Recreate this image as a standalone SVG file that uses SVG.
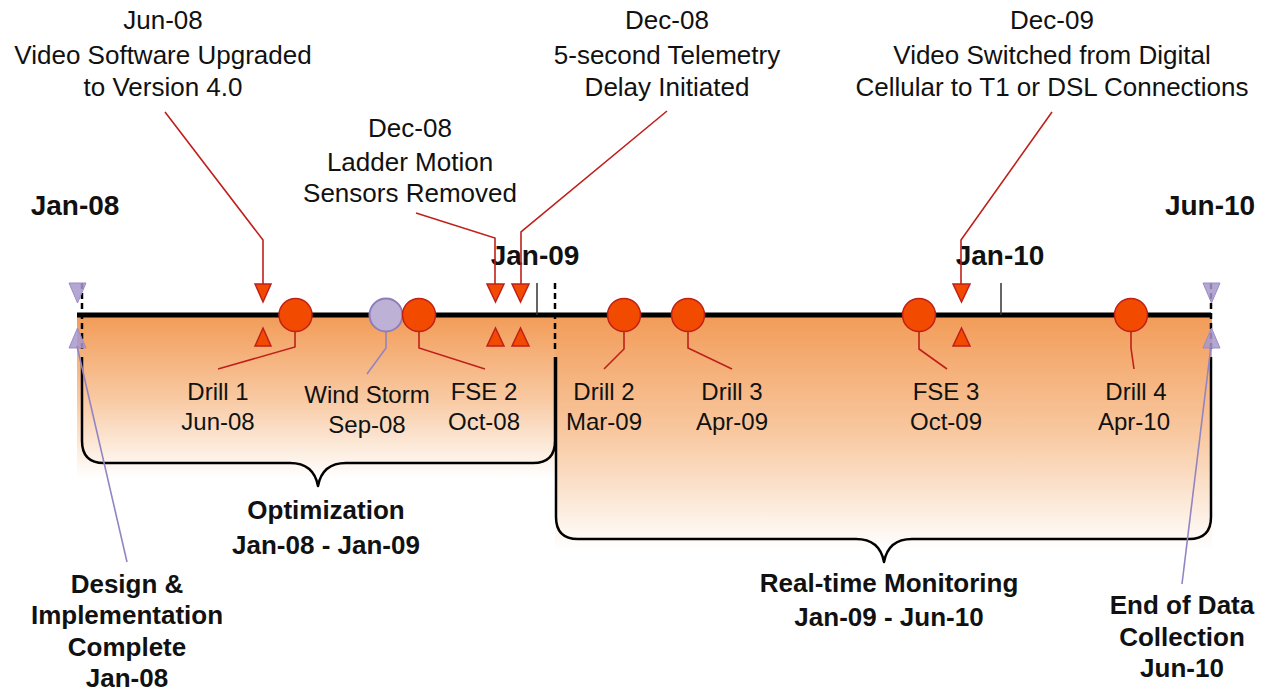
<svg xmlns="http://www.w3.org/2000/svg" width="1266" height="692" viewBox="0 0 1266 692">
<style>
text{font-family:"Liberation Sans",Arial,sans-serif;fill:#111;text-anchor:middle}
.note{font-size:26px}
.lbl{font-size:24px}
.bold{font-size:26px;font-weight:bold}
.date{font-size:28px;font-weight:bold}
.red{fill:#F24B00;stroke:#C0201A;stroke-width:1.5}
.pur{fill:#BDB2D6;stroke:#8E7DBB;stroke-width:2}
.ptri{fill:#A898CC;fill-opacity:0.85;stroke:#9B8CC6;stroke-width:1}
.rline{fill:none;stroke:#C0201A;stroke-width:1.6}
.pline{fill:none;stroke:#9384C2;stroke-width:1.6}
.brace{fill:none;stroke:#000;stroke-width:2.5;stroke-linejoin:round}
.dash{stroke:#000;stroke-width:2.5;stroke-dasharray:6,4}
</style>
<defs>
<linearGradient id="og" x1="0" y1="0" x2="0" y2="1">
<stop offset="0" stop-color="#F29C58"/>
<stop offset="0.5" stop-color="#F8C8A0"/>
<stop offset="1" stop-color="#FFFFFF"/>
</linearGradient>
</defs>
<g id="background">
<rect x="77" y="316" width="478" height="162" fill="url(#og)"/>
<rect x="555" y="316" width="657" height="234" fill="url(#og)"/>
</g>
<g id="braces">
<path class="brace" d="M82,357 V441 Q82,463 104,463 H290 C305,463 315,470 318,486 C321,470 331,463 346,463 H533 Q555,463 555,441 V357"/>
<path class="brace" d="M556,357 V517 Q556,539 578,539 H856 C871,539 881,546 884,562 C887,546 897,539 912,539 H1189 Q1211,539 1211,517 V357"/>
</g>
<g id="timeline">
<line x1="77" y1="315" x2="1211" y2="315" stroke="#000" stroke-width="5"/>
<line x1="537" y1="283" x2="537" y2="315" stroke="#333" stroke-width="1.5"/>
<line x1="1001" y1="283" x2="1001" y2="315" stroke="#333" stroke-width="1.5"/>
<line class="dash" x1="82" y1="283" x2="82" y2="352"/>
<line class="dash" x1="555" y1="283" x2="555" y2="352"/>
<line class="dash" x1="1211" y1="283" x2="1211" y2="352"/>
<polygon class="ptri" points="69,283 86,283 77.5,303"/>
<polygon class="ptri" points="69,348 86,348 77.5,328"/>
<polygon class="ptri" points="1203,283 1220,283 1211.5,303"/>
<polygon class="ptri" points="1203,348 1220,348 1211.5,328"/>
</g>
<g id="dates">
<text class="date" x="75" y="215">Jan-08</text>
<text class="date" x="1210" y="215">Jun-10</text>
<text class="date" x="535" y="265">Jan-09</text>
<text class="date" x="1000" y="265">Jan-10</text>
</g>
<g id="connectors">
<polyline class="rline" points="165,112 263,240 263,285"/>
<polyline class="rline" points="416,213 495,238 495,285"/>
<polyline class="rline" points="667,111 521,232 521,285"/>
<polyline class="rline" points="1052,112 961,240 961,285"/>
<polyline class="rline" points="295,331 295,347 218,369"/>
<polyline class="pline" points="386,331 386,348 367,374"/>
<polyline class="rline" points="419,331 419,348 485,369"/>
<polyline class="rline" points="624,331 624,349 604,369"/>
<polyline class="rline" points="688,331 688,348 732,369"/>
<polyline class="rline" points="919,331 919,349 947,369"/>
<polyline class="rline" points="1131,331 1131,348 1134,369"/>
<line class="pline" x1="77" y1="346" x2="127" y2="562"/>
<line class="pline" x1="1211" y1="346" x2="1182" y2="584"/>
</g>
<g id="markers">
<polygon class="red" points="255,284 271,284 263,302"/>
<polygon class="red" points="255,346 271,346 263,328"/>
<polygon class="red" points="487,284 504,284 495.5,302"/>
<polygon class="red" points="487,346 504,346 495.5,328"/>
<polygon class="red" points="512,284 529,284 520.5,302"/>
<polygon class="red" points="512,346 529,346 520.5,328"/>
<polygon class="red" points="953,284 970,284 961.5,302"/>
<polygon class="red" points="953,346 970,346 961.5,328"/>
</g>
<g id="note-jun08">
<text class="note" x="163" y="29">Jun-08</text>
<text class="note" x="163" y="64">Video Software Upgraded</text>
<text class="note" x="163" y="96">to Version 4.0</text>
</g>
<g id="note-ladder">
<text class="note" x="410" y="137">Dec-08</text>
<text class="note" x="410" y="171">Ladder Motion</text>
<text class="note" x="410" y="202">Sensors Removed</text>
</g>
<g id="note-telemetry">
<text class="note" x="667" y="29">Dec-08</text>
<text class="note" x="667" y="64">5-second Telemetry</text>
<text class="note" x="667" y="96">Delay Initiated</text>
</g>
<g id="note-video">
<text class="note" x="1052" y="29">Dec-09</text>
<text class="note" x="1052" y="64">Video Switched from Digital</text>
<text class="note" x="1052" y="96">Cellular to T1 or DSL Connections</text>
</g>
<g id="drill1">
<circle class="red" cx="295.5" cy="315" r="16.5"/>
<text class="lbl" x="218" y="400">Drill 1</text>
<text class="lbl" x="218" y="430">Jun-08</text>
</g>
<g id="windstorm">
<circle class="pur" cx="386" cy="315" r="16.5"/>
<text class="lbl" x="367" y="403">Wind Storm</text>
<text class="lbl" x="367" y="433">Sep-08</text>
</g>
<g id="fse2">
<circle class="red" cx="419" cy="315" r="16.5"/>
<text class="lbl" x="484" y="400">FSE 2</text>
<text class="lbl" x="484" y="430">Oct-08</text>
</g>
<g id="drill2">
<circle class="red" cx="624" cy="315" r="16.5"/>
<text class="lbl" x="604" y="400">Drill 2</text>
<text class="lbl" x="604" y="430">Mar-09</text>
</g>
<g id="drill3">
<circle class="red" cx="688" cy="315" r="16.5"/>
<text class="lbl" x="732" y="400">Drill 3</text>
<text class="lbl" x="732" y="430">Apr-09</text>
</g>
<g id="fse3">
<circle class="red" cx="919" cy="315" r="16.5"/>
<text class="lbl" x="946" y="400">FSE 3</text>
<text class="lbl" x="946" y="430">Oct-09</text>
</g>
<g id="drill4">
<circle class="red" cx="1131" cy="315" r="16.5"/>
<text class="lbl" x="1136" y="400">Drill 4</text>
<text class="lbl" x="1134" y="430">Apr-10</text>
</g>
<g id="optimization">
<text class="bold" x="326" y="519">Optimization</text>
<text class="bold" x="326" y="554">Jan-08 - Jan-09</text>
</g>
<g id="monitoring">
<text class="bold" x="889" y="592">Real-time Monitoring</text>
<text class="bold" x="889" y="626">Jan-09 - Jun-10</text>
</g>
<g id="design">
<text class="bold" x="127" y="593">Design &amp;</text>
<text class="bold" x="127" y="624">Implementation</text>
<text class="bold" x="127" y="656">Complete</text>
<text class="bold" x="127" y="687">Jan-08</text>
</g>
<g id="end">
<text class="bold" x="1182" y="614">End of Data</text>
<text class="bold" x="1182" y="646">Collection</text>
<text class="bold" x="1182" y="677">Jun-10</text>
</g>
</svg>
